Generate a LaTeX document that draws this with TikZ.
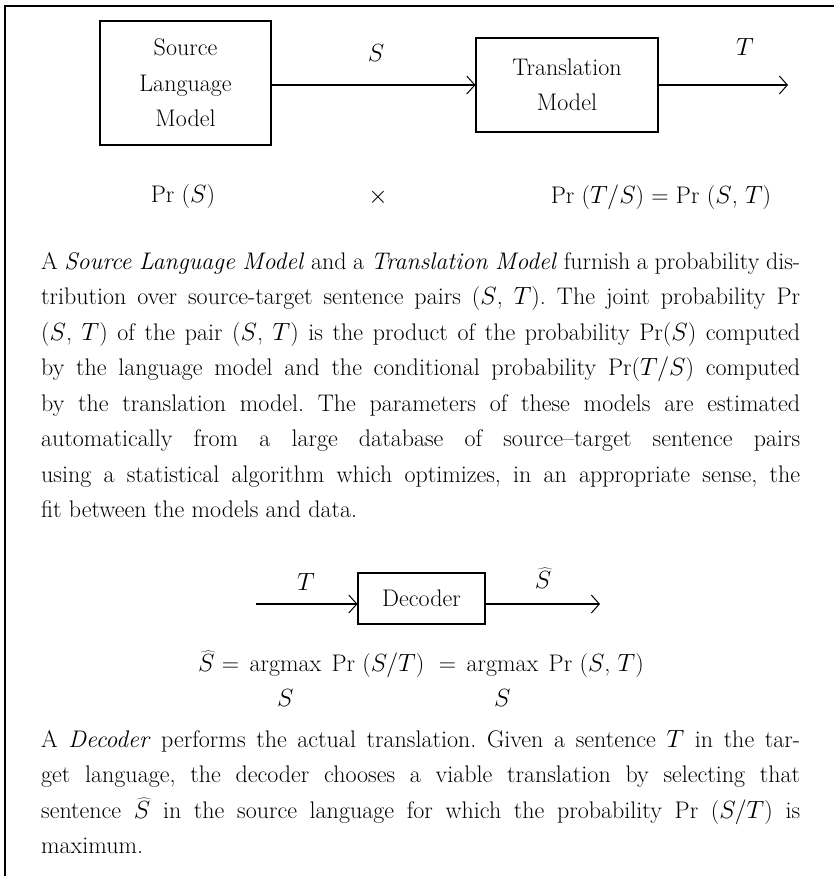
\documentclass[tikz,border=0pt]{standalone}
\usetikzlibrary{arrows.meta,calc}
\newcommand\bodyfont{\fontsize{24}{35.5}\selectfont}
\frenchspacing
\begin{document}
\begin{tikzpicture}[x=1pt,y=-1pt,
  every node/.style={inner sep=0pt,font=\bodyfont},
  modelbox/.style={draw,line width=1.1pt,align=center},
  arr/.style={line width=1.1pt,-{Straight Barb[length=8pt,width=18pt,line width=1pt]}},
  frameline/.style={line width=1.5pt}]
\useasboundingbox (0,0) rectangle (834,876);
\fill[white] (0,0) rectangle (834,876);
% frame
\draw[frameline] (5,876) -- (5,6) -- (834,6);
% top diagram
\node[modelbox,minimum width=171pt,minimum height=124pt] (src) at (185.5,83) {Source\\Language\\Model};
\node[modelbox,minimum width=182pt,minimum height=94pt] (trn) at (567,85) {Translation\\Model};
\coordinate (tout) at (788,85);
\draw[arr] (src.east |- trn.west) -- (trn.west);
\draw[arr] (trn.east) -- (tout);
\node (lS) at (376,53) {$S$};
\node (lT) at (745,47) {$T$};
\node (prs) at (183,197) {Pr (\(S\))};
\node (times) at (378,197) {\(\times\)};
\node (prts) at (661,197) {Pr (\(T/S\)) = Pr (\(S\), \(T\))};
% paragraph 1
\node[anchor=base west] (par1) at (41,269) {\parbox[t]{759pt}{\bodyfont
A \emph{Source Language Model} and a \emph{Translation Model} furnish a probability dis-\linebreak
tribution over source-target sentence pairs (\(S\), \(T\)). The joint probability Pr\linebreak
(\(S\), \(T\)) of the pair (\(S\), \(T\)) is the product of the probability Pr(\(S\)) computed\linebreak
by the language model and the conditional probability Pr(\(T/S\)) computed\linebreak
by the translation model. The parameters of these models are estimated\linebreak
automatically from a large database of source--target sentence pairs\linebreak
using a statistical algorithm which optimizes, in an appropriate sense, the\linebreak
fit between the models and data.}};
% decoder
\node[modelbox,minimum width=127pt,minimum height=51pt] (dec) at (421.5,598.5) {Decoder};
\coordinate (tin) at (256,604);
\coordinate (sout) at (600,604);
\draw[arr] (tin) -- (tin -| dec.west);
\draw[arr] (dec.east |- tin) -- (sout);
\node (lT2) at (306,582) {$T$};
\node (lS2) at (543,578) {$\widehat{S}$};
% equation
\node[anchor=base west] (e1) at (198,671) {\(\widehat{S}\) =};
\node[anchor=base west] (am1) at ($(e1.base east)+(10,0)$) {argmax};
\node[anchor=base west] (e2) at ($(am1.base east)+(10,0)$) {Pr (\(S/T\)) \ =};
\node[anchor=base west] (am2) at ($(e2.base east)+(10,0)$) {argmax};
\node[anchor=base west] (e3) at ($(am2.base east)+(10,0)$) {Pr (\(S\), \(T\))};
\node[anchor=base] (sub1) at ($(am1.base)+(0,35)$) {\(S\)};
\node[anchor=base] (sub2) at ($(am2.base)+(0,35)$) {\(S\)};
% paragraph 2
\node[anchor=base west] (par2) at (41,747) {\parbox[t]{759pt}{\bodyfont
A \emph{Decoder} performs the actual translation. Given a sentence \(T\) in the tar-\linebreak
get language, the decoder chooses a viable translation by selecting that\linebreak
sentence \(\widehat{S}\) in the source language for which the probability Pr (\(S/T\)) is\linebreak
maximum.}};
\end{tikzpicture}
\end{document}
